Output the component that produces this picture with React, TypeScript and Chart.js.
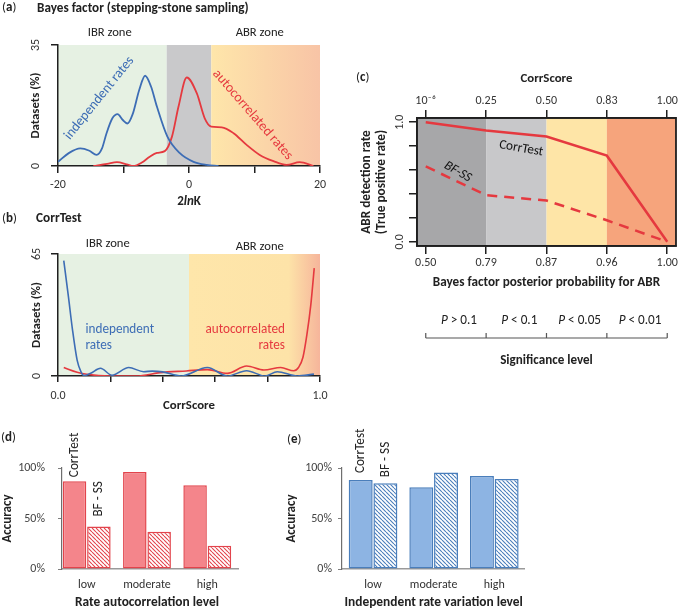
import React, { useEffect, useRef } from 'react';
import { Chart, registerables } from 'chart.js';

Chart.register(...registerables);

const FF = 'Carlito, Lato, "Open Sans", sans-serif';
const f = (size: number, weight = 'normal', style = 'normal') => `${style} ${weight} ${size}px ${FF}`;

const BLUE = '#3d6db5';
const RED = '#e5393f';
const AXIS = '#1f1f1f';
const TXT = '#222';

// ---------- Panel (a): Bayes factor (stepping-stone sampling) ----------
const aIndepX = [-20, -18.3, -16.6, -15.2, -14.1, -13.3, -12.6, -11.7, -10.9, -10.1, -9.4, -8.6, -7.6, -6.7, -5.8, -4.9, -3.3, -1.4, 0.7, 2.7, 4.5];
const aIndepY = [1.2, 3.8, 5.1, 4.4, 3.2, 5, 9.4, 13.8, 15, 13.3, 12.3, 15, 22, 26.1, 23, 17.2, 8.5, 3.7, 1.2, 0.3, 0];
const aAutoX = [-14.6, -12.5, -11, -9.5, -8.5, -7.2, -6, -4.9, -3.7, -2.6, -1.6, -0.35, 1.2, 2.4, 3.4, 5, 6.8, 8.8, 10.8, 12.9, 14.9, 16.9, 19];
const aAutoY = [0, 0.6, 1.1, 0.5, 0, 1, 2.7, 3.8, 4.3, 8.5, 17.2, 25.6, 21, 13.8, 11.4, 11.2, 9.5, 6.1, 3.2, 1.4, 0.3, 1.1, 0];
const aXTicks = [-20, -10, 0, 10, 20];
const aXLabels = ['-20', '', '0', '', '20'];
const aYTicks = [0, 35];
const aZones = [-3.4, 3.4];

// ---------- Panel (b): CorrTest ----------
const bIndepX = [0.022, 0.04, 0.055, 0.073, 0.087, 0.1, 0.125, 0.162, 0.206, 0.27, 0.327, 0.36, 0.4, 0.47, 0.57, 0.646, 0.72, 0.79, 0.837, 0.913, 0.977];
const bIndepY = [61.5, 42, 25, 8.5, 2.5, 0.2, 1.5, 4.1, 0.4, 4.5, 2.3, 2.6, 2.2, 0, 4.5, 0, 2.8, 0, 2.3, 0, 1];
const bAutoX = [0.022, 0.073, 0.11, 0.2, 0.3, 0.39, 0.49, 0.57, 0.646, 0.72, 0.786, 0.85, 0.9, 0.918, 0.935, 0.95, 0.965, 0.978];
const bAutoY = [4.5, 2, 0.9, 0, 0, 1.8, 2.7, 3.4, 1.4, 5.3, 3.2, 4.5, 2.8, 4.5, 10, 22, 38, 57.5];
const bXTicks = [0, 0.2, 0.4, 0.6, 0.8, 1.0];
const bXLabels = ['0.0', '', '', '', '', '1.0'];
const bYTicks = [0, 65];
const bZone = 0.5;

// ---------- Panel (c): detection rate ----------
const cPosterior = ['0.50', '0.79', '0.87', '0.96', '1.00'];
const cCorrScore = ['10⁻⁶', '0.25', '0.50', '0.83', '1.00'];
const cCorrTest = [1.0, 0.93, 0.88, 0.72, 0.0];
const cBfss = [0.63, 0.39, 0.345, 0.18, 0.0];
const cYTicks = [0, 0.2, 0.4, 0.6, 0.8, 1.0];
const cSignif = ['> 0.1', '< 0.1', '< 0.05', '< 0.01'];

// ---------- Panels (d) and (e): accuracy ----------
const levels = ['low', 'moderate', 'high'];
const seriesNames = ['CorrTest', 'BF - SS'];
const dCorrTest = [87, 96, 83];
const dBfss = [42, 37, 23];
const eCorrTest = [88, 81, 92];
const eBfss = [85, 95.5, 89];
const accTicks = [0, 50, 100];

function T(ctx: any, s: string, x: number, y: number, font: string, color: string, align = 'center', rot = 0, baseline = 'middle') {
  ctx.save();
  ctx.translate(x, y);
  if (rot) ctx.rotate((rot * Math.PI) / 180);
  ctx.font = font;
  ctx.fillStyle = color;
  ctx.textAlign = align;
  ctx.textBaseline = baseline;
  ctx.fillText(s, 0, 0);
  ctx.restore();
}

function segs(ctx: any, parts: { t: string; f: string }[], cx: number, cy: number, color: string) {
  ctx.save();
  let total = 0;
  parts.forEach((p) => { ctx.font = p.f; total += ctx.measureText(p.t).width; });
  let x = cx - total / 2;
  ctx.fillStyle = color;
  ctx.textAlign = 'left';
  ctx.textBaseline = 'middle';
  parts.forEach((p) => { ctx.font = p.f; ctx.fillText(p.t, x, cy); x += ctx.measureText(p.t).width; });
  ctx.restore();
}

function hatch(color: string) {
  const s = 4;
  const c = document.createElement('canvas');
  c.width = s; c.height = s;
  const g = c.getContext('2d')!;
  g.fillStyle = '#ffffff';
  g.fillRect(0, 0, s, s);
  g.strokeStyle = color;
  g.lineWidth = 1.1;
  g.beginPath();
  for (const k of [-s, 0, s]) { g.moveTo(k, 0); g.lineTo(k + s, s); }
  g.stroke();
  return g.createPattern(c, 'repeat');
}

const pts = (xs: number[], ys: number[]) => xs.map((x, i) => ({ x, y: ys[i] }));
const tickList = (vals: number[]) => (s: any) => { s.ticks = vals.map((v) => ({ value: v })); };

export default function App() {
  const aRef = useRef<HTMLCanvasElement>(null);
  const bRef = useRef<HTMLCanvasElement>(null);
  const cRef = useRef<HTMLCanvasElement>(null);
  const dRef = useRef<HTMLCanvasElement>(null);
  const eRef = useRef<HTMLCanvasElement>(null);

  useEffect(() => {
    const charts: any[] = [];
    const axisGrid = (len: number, color = AXIS, lw = 1.5) => ({ display: true, drawOnChartArea: false, drawTicks: true, tickLength: len, color, lineWidth: lw });
    const border = { display: true, color: AXIS, width: 1.5 };
    const base: any = {
      animation: false, responsive: false, maintainAspectRatio: false, events: [],
      plugins: { legend: { display: false }, tooltip: { enabled: false } },
    };
    const tickFont = { family: FF, size: 12 };

    // ---- (a)
    const aPlugin = {
      id: 'aDecor',
      beforeDraw(chart: any) {
        const { ctx, chartArea: ca, scales: { x } } = chart;
        const x1 = x.getPixelForValue(aZones[0]);
        const x2 = x.getPixelForValue(aZones[1]);
        ctx.save();
        ctx.fillStyle = '#e6f1e3';
        ctx.fillRect(ca.left, ca.top, x1 - ca.left, ca.height);
        ctx.fillStyle = '#c9c9cb';
        ctx.fillRect(x1, ca.top, x2 - x1, ca.height);
        const g = ctx.createLinearGradient(x2, 0, ca.right, 0);
        g.addColorStop(0, '#fee6aa');
        g.addColorStop(1, '#f8c4a6');
        ctx.fillStyle = g;
        ctx.fillRect(x2, ca.top, ca.right - x2, ca.height);
        ctx.restore();
      },
      afterDraw(chart: any) {
        const { ctx, chartArea: ca, scales: { x, y } } = chart;
        T(ctx, 'IBR zone', x.getPixelForValue(-12.1), ca.top - 12, f(12.6), TXT);
        T(ctx, 'ABR zone', x.getPixelForValue(10.8), ca.top - 12, f(12.6), TXT);
        aYTicks.forEach((v) => T(ctx, String(v), ca.left - 22, y.getPixelForValue(v), f(12), '#333', 'center', -90));
        T(ctx, 'Datasets (%)', ca.left - 22, (ca.top + ca.bottom) / 2, f(12.8, 'bold'), TXT, 'center', -90);
        segs(ctx, [{ t: '2', f: f(13, 'bold') }, { t: 'ln', f: f(13, 'bold', 'italic') }, { t: 'K', f: f(13, 'bold') }], (ca.left + ca.right) / 2, ca.bottom + 36, TXT);
        T(ctx, 'independent rates', x.getPixelForValue(-13.7), y.getPixelForValue(19.6), f(13.8), BLUE, 'center', -51);
        T(ctx, 'autocorrelated rates', x.getPixelForValue(9.7), y.getPixelForValue(14.8), f(13.9), RED, 'center', 49);
      },
    };
    charts.push(new Chart(aRef.current!, {
      type: 'line',
      data: { datasets: [
        { data: pts(aIndepX, aIndepY), borderColor: BLUE, borderWidth: 1.8, pointRadius: 0, cubicInterpolationMode: 'monotone' },
        { data: pts(aAutoX, aAutoY), borderColor: RED, borderWidth: 1.8, pointRadius: 0, cubicInterpolationMode: 'monotone' },
      ] } as any,
      options: {
        ...base,
        layout: { padding: { left: 0, right: 20, top: 45, bottom: 0 } },
        scales: {
          x: { type: 'linear', min: -20, max: 20, afterBuildTicks: tickList(aXTicks), afterFit: (s: any) => { s.height = 44; },
            ticks: { autoSkip: false, maxRotation: 0, padding: 5, font: tickFont, color: '#333', callback: (_v: any, i: number) => aXLabels[i] },
            grid: axisGrid(7), border },
          y: { type: 'linear', min: 0, max: 35, afterBuildTicks: tickList(aYTicks), afterFit: (s: any) => { s.width = 58; },
            ticks: { display: false }, grid: axisGrid(7), border },
        },
      },
      plugins: [aPlugin],
    } as any));

    // ---- (b)
    const bPlugin = {
      id: 'bDecor',
      beforeDraw(chart: any) {
        const { ctx, chartArea: ca, scales: { x } } = chart;
        const x1 = x.getPixelForValue(bZone);
        ctx.save();
        ctx.fillStyle = '#e6f1e3';
        ctx.fillRect(ca.left, ca.top, x1 - ca.left, ca.height);
        const g = ctx.createLinearGradient(x1, 0, ca.right, 0);
        g.addColorStop(0, '#fee6aa');
        g.addColorStop(0.76, '#fde3a8');
        g.addColorStop(1, '#f6b59b');
        ctx.fillStyle = g;
        ctx.fillRect(x1, ca.top, ca.right - x1, ca.height);
        ctx.restore();
      },
      afterDraw(chart: any) {
        const { ctx, chartArea: ca, scales: { x, y } } = chart;
        T(ctx, 'IBR zone', x.getPixelForValue(0.19), ca.top - 10, f(12.6), TXT);
        T(ctx, 'ABR zone', x.getPixelForValue(0.77), ca.top - 7, f(12.6), TXT);
        bYTicks.forEach((v) => T(ctx, String(v), ca.left - 21, y.getPixelForValue(v), f(12), '#333', 'center', -90));
        T(ctx, 'Datasets (%)', ca.left - 21, (ca.top + ca.bottom) / 2, f(12.8, 'bold'), TXT, 'center', -90);
        T(ctx, 'CorrScore', (ca.left + ca.right) / 2, ca.bottom + 30, f(12.8, 'bold'), TXT);
        T(ctx, 'independent', x.getPixelForValue(0.105), y.getPixelForValue(24.6), f(13.2), BLUE, 'left');
        T(ctx, 'rates', x.getPixelForValue(0.105), y.getPixelForValue(16), f(13.2), BLUE, 'left');
        T(ctx, 'autocorrelated', x.getPixelForValue(0.866), y.getPixelForValue(24.6), f(13.2), RED, 'right');
        T(ctx, 'rates', x.getPixelForValue(0.866), y.getPixelForValue(16), f(13.2), RED, 'right');
      },
    };
    charts.push(new Chart(bRef.current!, {
      type: 'line',
      data: { datasets: [
        { data: pts(bIndepX, bIndepY), borderColor: BLUE, borderWidth: 1.6, pointRadius: 0, cubicInterpolationMode: 'monotone' },
        { data: pts(bAutoX, bAutoY), borderColor: RED, borderWidth: 1.6, pointRadius: 0, cubicInterpolationMode: 'monotone' },
      ] } as any,
      options: {
        ...base,
        layout: { padding: { left: 0, right: 20, top: 54, bottom: 0 } },
        scales: {
          x: { type: 'linear', min: 0, max: 1, afterBuildTicks: tickList(bXTicks), afterFit: (s: any) => { s.height = 44; },
            ticks: { autoSkip: false, maxRotation: 0, padding: 7, font: tickFont, color: '#333', callback: (_v: any, i: number) => bXLabels[i] },
            grid: axisGrid(6), border },
          y: { type: 'linear', min: 0, max: 65, afterBuildTicks: tickList(bYTicks), afterFit: (s: any) => { s.width = 58; },
            ticks: { display: false }, grid: axisGrid(7), border },
        },
      },
      plugins: [bPlugin],
    } as any));

    // ---- (c)
    const cIdx = cPosterior.map((_, i) => i);
    const cPlugin = {
      id: 'cDecor',
      beforeDraw(chart: any) {
        const { ctx, chartArea: ca, scales: { x } } = chart;
        const edges = [ca.left, x.getPixelForValue(1), x.getPixelForValue(2), x.getPixelForValue(3), ca.right];
        const cols = ['#a7a7a9', '#c8c8ca', '#fee5a7', '#f6a47c'];
        ctx.save();
        cols.forEach((c, i) => { ctx.fillStyle = c; ctx.fillRect(edges[i], ca.top, edges[i + 1] - edges[i], ca.height); });
        ctx.restore();
      },
      afterDraw(chart: any) {
        const { ctx, chartArea: ca, scales: { x, y } } = chart;
        const cx = (ca.left + ca.right) / 2;
        const cy = (ca.top + ca.bottom) / 2;
        ctx.save();
        ctx.strokeStyle = AXIS;
        ctx.lineWidth = 1.8;
        ctx.strokeRect(ca.left, ca.top, ca.width, ca.height);
        ctx.restore();
        T(ctx, 'CorrScore', cx, ca.top - 39, f(12.8, 'bold'), TXT);
        [1, 0].forEach((v) => T(ctx, v.toFixed(1), ca.left - 17, y.getPixelForValue(v), f(12), '#333', 'center', -90));
        T(ctx, 'ABR detection rate', ca.left - 50, cy, f(13.3, 'bold'), TXT, 'center', -90);
        T(ctx, '(True positive rate)', ca.left - 35, cy, f(13.3, 'bold'), TXT, 'center', -90);
        T(ctx, 'Bayes factor posterior probability for ABR', cx, ca.bottom + 37, f(13.2, 'bold'), TXT);
        cSignif.forEach((s, i) => segs(ctx, [{ t: 'P', f: f(13.2, 'normal', 'italic') }, { t: ' ' + s, f: f(13.2) }], x.getPixelForValue(i + 0.5) + 3, ca.bottom + 75, TXT));
        const by = ca.bottom + 92;
        ctx.save();
        ctx.strokeStyle = '#555';
        ctx.lineWidth = 1.2;
        ctx.beginPath();
        ctx.moveTo(x.getPixelForValue(0), by);
        ctx.lineTo(x.getPixelForValue(4), by);
        for (let i = 0; i <= 4; i++) { ctx.moveTo(x.getPixelForValue(i), by); ctx.lineTo(x.getPixelForValue(i), by - 5); }
        ctx.stroke();
        ctx.restore();
        T(ctx, 'Significance level', cx, ca.bottom + 115, f(13.1, 'bold'), TXT);
        T(ctx, 'CorrTest', x.getPixelForValue(1.58), y.getPixelForValue(0.78), f(13.2), '#111', 'center', 10);
        T(ctx, 'BF-SS', x.getPixelForValue(0.53), y.getPixelForValue(0.585), f(13.2, 'normal', 'italic'), '#111', 'center', 30);
      },
    };
    const cX = (pos: string, labels: string[], pad: number, h: number) => ({
      type: 'linear', position: pos, axis: 'x', min: -0.145, max: 4.145, afterBuildTicks: tickList(cIdx),
      afterFit: (s: any) => { s.height = h; },
      ticks: { autoSkip: false, maxRotation: 0, padding: pad, font: tickFont, color: '#333', callback: (_v: any, i: number) => labels[i] },
      grid: axisGrid(8), border,
    });
    charts.push(new Chart(cRef.current!, {
      type: 'line',
      data: { datasets: [
        { data: pts(cIdx, cCorrTest), borderColor: RED, borderWidth: 2.5, pointRadius: 0, tension: 0 },
        { data: pts(cIdx, cBfss), borderColor: RED, borderWidth: 2.5, pointRadius: 0, tension: 0, borderDash: [10, 7] },
      ] } as any,
      options: {
        ...base,
        layout: { padding: { left: 0, right: 3, top: 0, bottom: 0 } },
        scales: {
          x: cX('bottom', cPosterior, 2, 134),
          xTop: cX('top', cCorrScore, 1.5, 58),
          y: { type: 'linear', min: -0.035, max: 1.035, afterBuildTicks: tickList(cYTicks), afterFit: (s: any) => { s.width = 77; },
            ticks: { display: false }, grid: axisGrid(8), border },
        },
      },
      plugins: [cPlugin],
    } as any));

    // ---- (d) and (e)
    const barChart = (canvas: HTMLCanvasElement, ct: number[], bf: number[], fill: string, line: string, cfg: any) => {
      const plugin = {
        id: 'barDecor',
        afterDraw(chart: any) {
          const { ctx, chartArea: ca, scales: { x } } = chart;
          [0, 1].forEach((di) => {
            const el: any = chart.getDatasetMeta(di).data[0];
            T(ctx, seriesNames[di], el.x, el.y - cfg.gaps[di], f(13.2), '#222', 'left', -90);
          });
          T(ctx, 'Accuracy', cfg.accX, (ca.top + ca.bottom) / 2, f(13, 'bold'), TXT, 'center', -90);
          T(ctx, cfg.title, x.getPixelForValue(1), ca.bottom + 34, f(13.4, 'bold'), TXT);
        },
      };
      return new Chart(canvas, {
        type: 'bar',
        data: { datasets: [
          { data: pts(levels.map((_, i) => i), ct), backgroundColor: fill, borderColor: line, borderWidth: 1.5, borderSkipped: false, categoryPercentage: cfg.cat, barPercentage: cfg.bar },
          { data: pts(levels.map((_, i) => i), bf), backgroundColor: hatch(line), borderColor: line, borderWidth: 1.5, borderSkipped: false, categoryPercentage: cfg.cat, barPercentage: cfg.bar },
        ] } as any,
        options: {
          ...base,
          layout: { padding: { left: 0, right: cfg.right, top: 48, bottom: 0 } },
          scales: {
            x: { type: 'linear', min: cfg.min, max: cfg.max, offset: false, afterBuildTicks: tickList([0, 1, 2]), afterFit: (s: any) => { s.height = 41; },
              ticks: { autoSkip: false, maxRotation: 0, padding: 9, font: tickFont, color: '#333', callback: (_v: any, i: number) => levels[i] },
              grid: { display: false, drawTicks: false, offset: false }, border: { display: true, color: '#9a9a9a', width: 1.5 } },
            y: { type: 'linear', min: 0, max: 100, afterBuildTicks: tickList(accTicks), afterFit: (s: any) => { s.width = cfg.yw; },
              ticks: { padding: cfg.ypad, font: tickFont, color: '#444', callback: (v: any) => v + '%' },
              grid: axisGrid(4, '#7f7f7f', 1), border: { display: true, color: '#6f6f6f', width: 1.2 } },
          },
        },
        plugins: [plugin],
      } as any);
    };
    charts.push(barChart(dRef.current!, dCorrTest, dBfss, '#f4858b', '#e2444c',
      { min: -0.41, max: 2.51, cat: 0.808, bar: 0.965, right: 32, yw: 62, ypad: 13, accX: 8, gaps: [4, 10], title: 'Rate autocorrelation level' }));
    charts.push(barChart(eRef.current!, eCorrTest, eBfss, '#8db4e3', '#4a7ebb',
      { min: -0.512, max: 2.49, cat: 0.815, bar: 0.97, right: 156, yw: 72, ypad: 6, accX: 22, gaps: [7, 6], title: 'Independent rate variation level' }));

    return () => charts.forEach((c) => c.destroy());
  }, []);

  const abs = (left: number, top: number): React.CSSProperties => ({ position: 'absolute', left, top });
  const lbl: React.CSSProperties = { position: 'absolute', fontFamily: FF, fontSize: 13, lineHeight: '14px', whiteSpace: 'nowrap', color: TXT };

  return (
    <div style={{ position: 'absolute', left: 0, top: 0, width: 680, height: 610, background: '#fff', overflow: 'hidden' }}>
      <canvas ref={aRef} width={340} height={210} style={abs(0, 0)} />
      <canvas ref={bRef} width={340} height={220} style={abs(0, 200)} />
      <canvas ref={cRef} width={340} height={320} style={abs(340, 60)} />
      <canvas ref={dRef} width={270} height={190} style={abs(0, 420)} />
      <canvas ref={eRef} width={410} height={190} style={abs(270, 420)} />
      <div style={{ ...lbl, left: 2, top: 0 }}>(<b>a</b>)</div>
      <div style={{ ...lbl, left: 37, top: 1, fontWeight: 'bold', fontSize: 13.2 }}>Bayes factor (stepping-stone sampling)</div>
      <div style={{ ...lbl, left: 2, top: 211 }}>(<b>b</b>)</div>
      <div style={{ ...lbl, left: 36, top: 211, fontWeight: 'bold', fontSize: 13.3 }}>CorrTest</div>
      <div style={{ ...lbl, left: 356, top: 70 }}>(<b>c</b>)</div>
      <div style={{ ...lbl, left: 1, top: 430 }}>(<b>d</b>)</div>
      <div style={{ ...lbl, left: 287, top: 432 }}>(<b>e</b>)</div>
    </div>
  );
}
